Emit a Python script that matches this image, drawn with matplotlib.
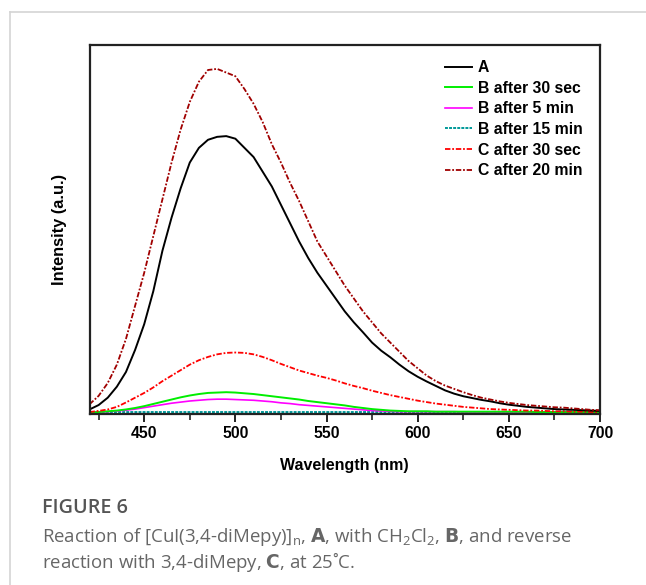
import matplotlib
matplotlib.use("Agg")
import matplotlib.pyplot as plt
from matplotlib.lines import Line2D

wavelength = [420, 425, 430, 435, 440, 445, 450, 455, 460, 465, 470, 475, 480, 485, 490,
              495, 500, 505, 510, 515, 520, 525, 530, 535, 540, 545, 550, 555, 560, 565,
              570, 575, 580, 585, 590, 595, 600, 605, 610, 615, 620, 625, 630, 635, 640,
              645, 650, 655, 660, 665, 670, 675, 680, 685, 690, 695, 700]

A = [0.008, 0.02, 0.04, 0.07, 0.11, 0.17, 0.24, 0.33, 0.44, 0.53, 0.61, 0.68, 0.72, 0.742, 0.75,
     0.752, 0.745, 0.72, 0.695, 0.655, 0.615, 0.565, 0.515, 0.465, 0.42, 0.38, 0.345, 0.31, 0.275, 0.245,
     0.218, 0.19, 0.168, 0.15, 0.13, 0.112, 0.097, 0.084, 0.072, 0.06, 0.051, 0.044, 0.039, 0.034, 0.03,
     0.025, 0.021, 0.018, 0.015, 0.013, 0.011, 0.009, 0.008, 0.007, 0.006, 0.005, 0.004]

B_30sec = [0.0, 0.001, 0.003, 0.005, 0.008, 0.012, 0.017, 0.023, 0.029, 0.035, 0.041, 0.046, 0.05, 0.053, 0.054,
           0.055, 0.054, 0.052, 0.05, 0.047, 0.044, 0.041, 0.038, 0.035, 0.031, 0.028, 0.025, 0.022, 0.019, 0.015,
           0.012, 0.009, 0.007, 0.005, 0.004, 0.003, 0.003, 0.003, 0.002, 0.002, 0.002, 0.002, 0.002, 0.002, 0.002,
           0.002, 0.002, 0.002, 0.002, 0.001, 0.001, 0.001, 0.001, 0.001, 0.001, 0.001, 0.001]

B_5min = [0.0, 0.001, 0.002, 0.004, 0.006, 0.009, 0.013, 0.017, 0.021, 0.025, 0.028, 0.031, 0.033, 0.035, 0.036,
          0.036, 0.035, 0.034, 0.033, 0.031, 0.029, 0.026, 0.024, 0.021, 0.019, 0.017, 0.015, 0.013, 0.011, 0.009,
          0.007, 0.005, 0.004, 0.003, 0.002, 0.002, 0.002, 0.002, 0.002, 0.002, 0.002, 0.001, 0.001, 0.001, 0.001,
          0.001, 0.001, 0.001, 0.001, 0.001, 0.001, 0.001, 0.001, 0.001, 0.001, 0.001, 0.001]

B_15min = [0.0, 0.0, 0.001, 0.001, 0.001, 0.001, 0.001, 0.001, 0.001, 0.001, 0.001, 0.001, 0.001, 0.001, 0.001,
           0.001, 0.001, 0.001, 0.001, 0.001, 0.001, 0.001, 0.001, 0.001, 0.001, 0.001, 0.001, 0.001, 0.001, 0.001,
           0.001, 0.001, 0.001, 0.001, 0.001, 0.001, 0.001, 0.001, 0.001, 0.001, 0.001, 0.001, 0.001, 0.001, 0.001,
           0.001, 0.001, 0.001, 0.001, 0.001, 0.001, 0.001, 0.001, 0.001, 0.001, 0.001, 0.001]

C_30sec = [0.001, 0.004, 0.008, 0.015, 0.027, 0.04, 0.053, 0.068, 0.085, 0.1, 0.115, 0.13, 0.142, 0.151, 0.158,
           0.162, 0.163, 0.162, 0.158, 0.151, 0.142, 0.132, 0.123, 0.114, 0.107, 0.1, 0.094, 0.087, 0.079, 0.072,
           0.066, 0.059, 0.053, 0.047, 0.042, 0.037, 0.032, 0.028, 0.024, 0.021, 0.018, 0.015, 0.013, 0.011, 0.009,
           0.008, 0.007, 0.006, 0.005, 0.005, 0.004, 0.003, 0.003, 0.002, 0.002, 0.001, 0.001]

C_20min = [0.022, 0.045, 0.08, 0.13, 0.2, 0.29, 0.38, 0.48, 0.58, 0.68, 0.77, 0.845, 0.9, 0.932, 0.935,
           0.925, 0.915, 0.88, 0.84, 0.79, 0.73, 0.68, 0.625, 0.575, 0.52, 0.465, 0.425, 0.385, 0.345, 0.31,
           0.275, 0.245, 0.215, 0.19, 0.165, 0.14, 0.12, 0.1, 0.085, 0.073, 0.064, 0.055, 0.047, 0.04, 0.035,
           0.03, 0.026, 0.023, 0.02, 0.018, 0.016, 0.014, 0.013, 0.011, 0.009, 0.007, 0.006]

labels = ["A", "B after 30 sec", "B after 5 min", "B after 15 min", "C after 30 sec", "C after 20 min"]
xticks = [450, 500, 550, 600, 650, 700]

W, H = 646, 585
fig = plt.figure(figsize=(W / 100, H / 100), dpi=100)
fig.patch.set_facecolor("white")

# outer light frame lines
fig.add_artist(Line2D([9.5 / W, 1.0], [1 - 12 / H, 1 - 12 / H], color="#d4d4d4", lw=1.2))
fig.add_artist(Line2D([9.5 / W, 9.5 / W], [0, 1 - 12 / H], color="#d4d4d4", lw=1.2))

ax = fig.add_axes([89.5 / W, 1 - 413.5 / H, (600 - 89.5) / W, (413.5 - 45) / H])

font = "Liberation Sans"
styles = [
    dict(color="black", lw=1.4, ls="-"),
    dict(color="#00ee00", lw=1.4, ls="-"),
    dict(color="#ff00ff", lw=1.2, ls="-"),
    dict(color="#009999", lw=1.4, ls=(0, (1.5, 0.6))),
    dict(color="#ff0000", lw=1.3, ls=(0, (3, 1, 1, 1))),
    dict(color="#a00000", lw=1.3, ls=(0, (3, 1, 1, 1))),
]
series = [A, B_30sec, B_5min, B_15min, C_30sec, C_20min]
order = [3, 2, 1, 4, 0, 5]
handles = [None] * 6
for i in order:
    (h,) = ax.plot(wavelength, series[i], label=labels[i], **styles[i])
    handles[i] = h

ax.set_xlim(420, 700)
ax.set_ylim(-0.003, 1.0)
ax.set_xticks(xticks)
ax.set_xticks(list(range(425, 700, 50)), minor=True)
ax.set_yticks([])
for s in ax.spines.values():
    s.set_linewidth(1.6)
    s.set_color("#222222")
ax.tick_params(axis="x", which="major", direction="out", length=6, width=1.4, colors="#222222",
               pad=3, labelsize=11.3, labelcolor="black")
ax.tick_params(axis="x", which="minor", direction="out", length=4, width=1.2, colors="#222222")
for t in ax.get_xticklabels():
    t.set_fontfamily(font)
    t.set_fontweight("bold")

ax.set_xlabel("Wavelength (nm)", fontsize=11.5, fontweight="bold", family=font, labelpad=12)
ax.set_ylabel("Intensity (a.u.)", fontsize=11.8, fontweight="bold", family=font, labelpad=16)

leg = ax.legend(handles=handles, labels=labels, loc="upper left",
                bbox_to_anchor=(445 / W, 1 - 60 / H), bbox_transform=fig.transFigure,
                frameon=False, borderpad=0, borderaxespad=0, handlelength=1.75,
                handletextpad=0.33, labelspacing=0.36,
                prop={"family": font, "weight": "bold", "size": 11.3})

cap_font = ["Open Sans", "DejaVu Sans"]
fig.text(42 / W, 1 - 508 / H, "FIGURE 6", fontsize=14.2, color="#555555", family=cap_font,
         fontweight="semibold", va="center", ha="left")
fig.text(42 / W, 1 - 537 / H,
         r"Reaction of [CuI(3,4-diMepy)]$_\mathregular{n}$, $\mathbf{A}$, with CH$_\mathregular{2}$Cl$_\mathregular{2}$, $\mathbf{B}$, and reverse",
         fontsize=13.4, color="#666666", family=cap_font, va="center", ha="left")
fig.text(42 / W, 1 - 562 / H,
         "reaction with 3,4-diMepy, $\\mathbf{C}$, at 25\u02daC.",
         fontsize=13.4, color="#666666", family=cap_font, va="center", ha="left")

fig.savefig("out.png", dpi=100, facecolor="white")
